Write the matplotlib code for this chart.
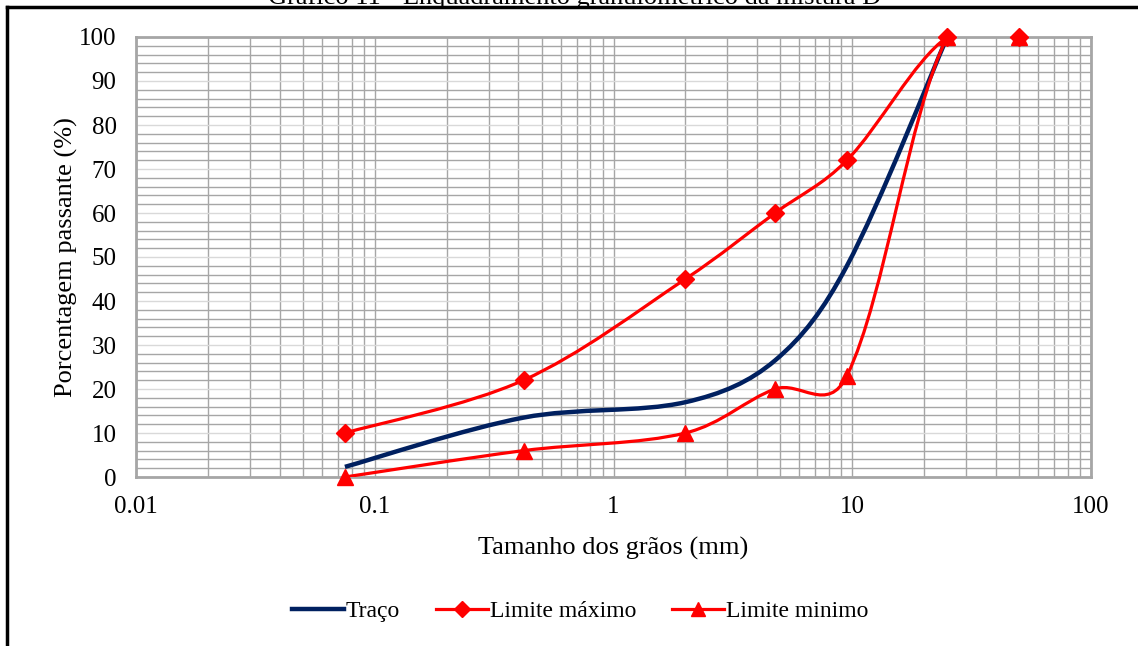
import numpy as np
import matplotlib
matplotlib.use('Agg')
import matplotlib.pyplot as plt
from matplotlib.path import Path
from matplotlib.patches import PathPatch
from matplotlib.lines import Line2D
from matplotlib.ticker import LogLocator, MultipleLocator, NullFormatter, FixedLocator

plt.rcParams['font.family'] = ['Liberation Serif', 'DejaVu Serif']

# sieve openings (mm) and percentage passing
abertura = [0.075, 0.42, 2.0, 4.75, 9.5, 25.0, 50.0]
limite_max = [10, 22, 45, 60, 72, 100, 100]
limite_min = [0, 6, 10, 20, 23, 100, 100]
traco_x = [0.075, 0.42, 2.0, 4.75, 9.5, 25.0]
traco = [2.3, 13.5, 17, 26.5, 48, 100]

NAVY = '#002060'
RED = '#FF0000'

W, H = 1138, 646
fig = plt.figure(figsize=(W / 100, H / 100), dpi=100)
ax = fig.add_axes([136 / W, 1 - 477 / H, (1091 - 136) / W, (477 - 37) / H])

# px per decade / px per unit -> smoothing done in screen-like space
SX, SY = 238.75, 4.4


def smooth_path(xs, ys):
    # smoothed line: bezier segments, control points partly weighted by segment length
    pts = np.column_stack([np.log10(xs) * SX, np.array(ys, float) * SY])
    n = len(pts)
    verts = [pts[0]]
    codes = [Path.MOVETO]
    for i in range(n - 1):
        p0 = pts[max(i - 1, 0)]
        p1 = pts[i]
        p2 = pts[i + 1]
        p3 = pts[min(i + 2, n - 1)]
        d0 = np.hypot(*(p1 - p0))
        d1 = np.hypot(*(p2 - p1))
        d2 = np.hypot(*(p3 - p2))
        f1 = d1 / (d0 + d1) if d0 > 0 else 0.5
        f2 = d1 / (d1 + d2) if d2 > 0 else 0.5
        k1 = 0.5 / 6 + 0.5 * f1 / 3
        k2 = 0.5 / 6 + 0.5 * f2 / 3
        c1 = p1 + (p2 - p0) * k1
        c2 = p2 - (p3 - p1) * k2
        verts += [c1, c2, p2]
        codes += [Path.CURVE4] * 3
    verts = np.array(verts)
    data = np.column_stack([10 ** (verts[:, 0] / SX), verts[:, 1] / SY])
    return Path(data, codes)


ax.add_patch(PathPatch(smooth_path(traco_x, traco), fill=False, ec=NAVY, lw=3.2, zorder=3))
ax.add_patch(PathPatch(smooth_path(abertura, limite_max), fill=False, ec=RED, lw=2.3, zorder=3))
ax.add_patch(PathPatch(smooth_path(abertura, limite_min), fill=False, ec=RED, lw=2.3, zorder=3))
ax.plot(abertura, limite_max, ls='none', marker='D', ms=9, color=RED, clip_on=False, zorder=4)
ax.plot(abertura, limite_min, ls='none', marker='^', ms=11, color=RED, clip_on=False, zorder=5)

ax.set_xscale('log')
ax.set_xlim(0.01, 100)
ax.set_ylim(0, 100)

ax.xaxis.set_major_locator(FixedLocator([0.01, 0.1, 1, 10, 100]))
ax.set_xticklabels(['0.01', '0.1', '1', '10', '100'])
ax.xaxis.set_minor_locator(LogLocator(base=10, subs=np.arange(2, 10)))
ax.xaxis.set_minor_formatter(NullFormatter())
ax.yaxis.set_major_locator(MultipleLocator(10))
ax.yaxis.set_minor_locator(MultipleLocator(2))

ax.grid(True, which='minor', color='#a6a6a6', lw=1.0, zorder=0)
ax.grid(True, which='major', axis='x', color='#a6a6a6', lw=1.0, zorder=0)
ax.grid(True, which='major', axis='y', color='#d9d9d9', lw=1.0, zorder=0)
ax.set_axisbelow(True)

ax.tick_params(which='both', length=0, labelsize=18)
ax.tick_params(axis='x', pad=14)
ax.tick_params(axis='y', pad=14)
for s in ax.spines.values():
    s.set_color('#a6a6a6')
    s.set_linewidth(2)

ax.set_xlabel('Tamanho dos grãos (mm)', fontsize=19, labelpad=13)
ax.set_ylabel('Porcentagem passante (%)', fontsize=19, labelpad=1)

handles = [
    Line2D([], [], color=NAVY, lw=3.2),
    Line2D([], [], color=RED, lw=2.3, marker='D', ms=8),
    Line2D([], [], color=RED, lw=2.3, marker='^', ms=10),
]
fig.legend(handles, ['Traço', 'Limite máximo', 'Limite minimo'], loc='center',
           bbox_to_anchor=(580 / W, 1 - 611 / H), ncol=3, frameon=False,
           fontsize=17, handlelength=2.2, handletextpad=0.1, columnspacing=1.5)

fig.text(575 / W, 1 - 4 / H, 'Gráfico 11 - Enquadramento granulométrico da mistura D',
         ha='center', va='baseline', fontsize=19)
fig.add_artist(Line2D([7 / W, 1], [1 - 7 / H, 1 - 7 / H], color='black', lw=2.5,
                      transform=fig.transFigure))
fig.add_artist(Line2D([7 / W, 7 / W], [0, 1 - 7 / H], color='black', lw=2.5,
                      transform=fig.transFigure))

fig.savefig('out.png', dpi=100)
